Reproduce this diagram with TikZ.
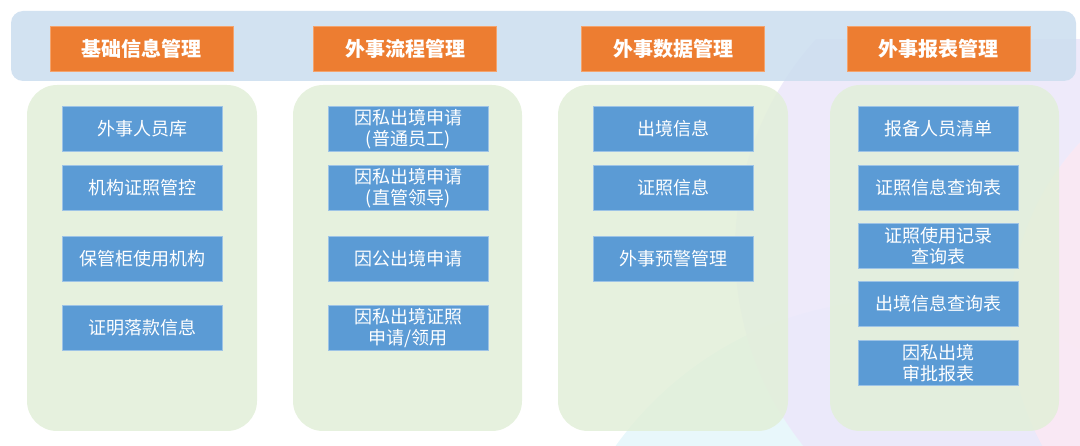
\documentclass[tikz,border=0pt]{standalone}
\usepackage{fontspec}
\setmainfont{Noto Sans CJK SC}
\usepackage{tikz}
\usetikzlibrary{positioning}
\usepackage{xcolor}
\definecolor{banner}{HTML}{CEDFF0}
\definecolor{head}{HTML}{ED7D31}
\definecolor{headline}{HTML}{F4A36C}
\definecolor{item}{HTML}{5B9BD5}
\definecolor{itemline}{HTML}{9DC3E6}
\definecolor{panel}{HTML}{E2EFD9}
\definecolor{lavender}{HTML}{ECE8FA}
\definecolor{blush}{HTML}{FCE8F3}
\definecolor{aqua}{HTML}{E8F7FB}
\tikzset{
  every node/.style={text=white},
  headbox/.style={draw=headline,line width=0.8pt,fill=head,minimum width=183pt,minimum height=45pt,outer sep=0pt,font=\fontsize{20}{24}\selectfont\bfseries},
  itembox/.style={draw=itemline,line width=0.8pt,fill=item,minimum width=160pt,minimum height=45pt,outer sep=0pt,align=center,inner sep=1pt,font=\fontsize{18}{21}\selectfont},
  panelbox/.style={fill=panel,fill opacity=0.86,rounded corners=30pt,minimum height=346pt,outer sep=0pt},
  bannerbox/.style={fill=banner,fill opacity=0.92,rounded corners=12pt,minimum width=1065pt,minimum height=70pt},
  blob/.style={draw=none},
}

\begin{document}
\begin{tikzpicture}[x=1pt,y=-1pt,node distance=14pt]
\useasboundingbox (0,0) rectangle (1080,446);

% background shapes
\begin{scope}
\clip (0,40) rectangle (1080,446);
\fill[blob,aqua] (900,650) circle (350);
\fill[blob,lavender,fill opacity=0.9] (1050,250) circle (315);
\fill[blob,blush,fill opacity=0.85] (1270,320) circle (260);
\end{scope}

% top band
\node[bannerbox] (band) at (543.5,46) {};

% column panels
\node[panelbox,minimum width=230pt] (p1) at (142,258) {};
\node[panelbox,minimum width=229pt] (p2) at (407.5,258) {};
\node[panelbox,minimum width=230pt] (p3) at (673,258) {};
\node[panelbox,minimum width=229pt] (p4) at (944.5,258) {};

% headers
\node[headbox] (h1) at (141.5,48.5) {基础信息管理};
\node[headbox] (h2) at (405,48.5) {外事流程管理};
\node[headbox] (h3) at (673,48.5) {外事数据管理};
\node[headbox] (h4) at (938.5,48.5) {外事报表管理};

% basic info
\node[itembox] (a1) at (142,129) {外事人员库};
\node[itembox,below=of a1] (a2) {机构证照管控};
\node[itembox,below=26pt of a2] (a3) {保管柜使用机构};
\node[itembox,below=24pt of a3] (a4) {证明落款信息};

% process
\node[itembox] (b1) at (408,129) {因私出境申请\\(普通员工)};
\node[itembox,below=of b1] (b2) {因私出境申请\\(直管领导)};
\node[itembox,below=26pt of b2] (b3) {因公出境申请};
\node[itembox,below=24pt of b3] (b4) {因私出境证照\\申请/领用};

% data
\node[itembox] (c1) at (673,129) {出境信息};
\node[itembox,below=of c1] (c2) {证照信息};
\node[itembox,below=26pt of c2] (c3) {外事预警管理};

% reports
\node[itembox] (d1) at (938,129) {报备人员清单};
\node[itembox,below=of d1] (d2) {证照信息查询表};
\node[itembox,below=13pt of d2] (d3) {证照使用记录\\查询表};
\node[itembox,below=13pt of d3] (d4) {出境信息查询表};
\node[itembox,below=of d4] (d5) {因私出境\\审批报表};

\end{tikzpicture}
\end{document}
